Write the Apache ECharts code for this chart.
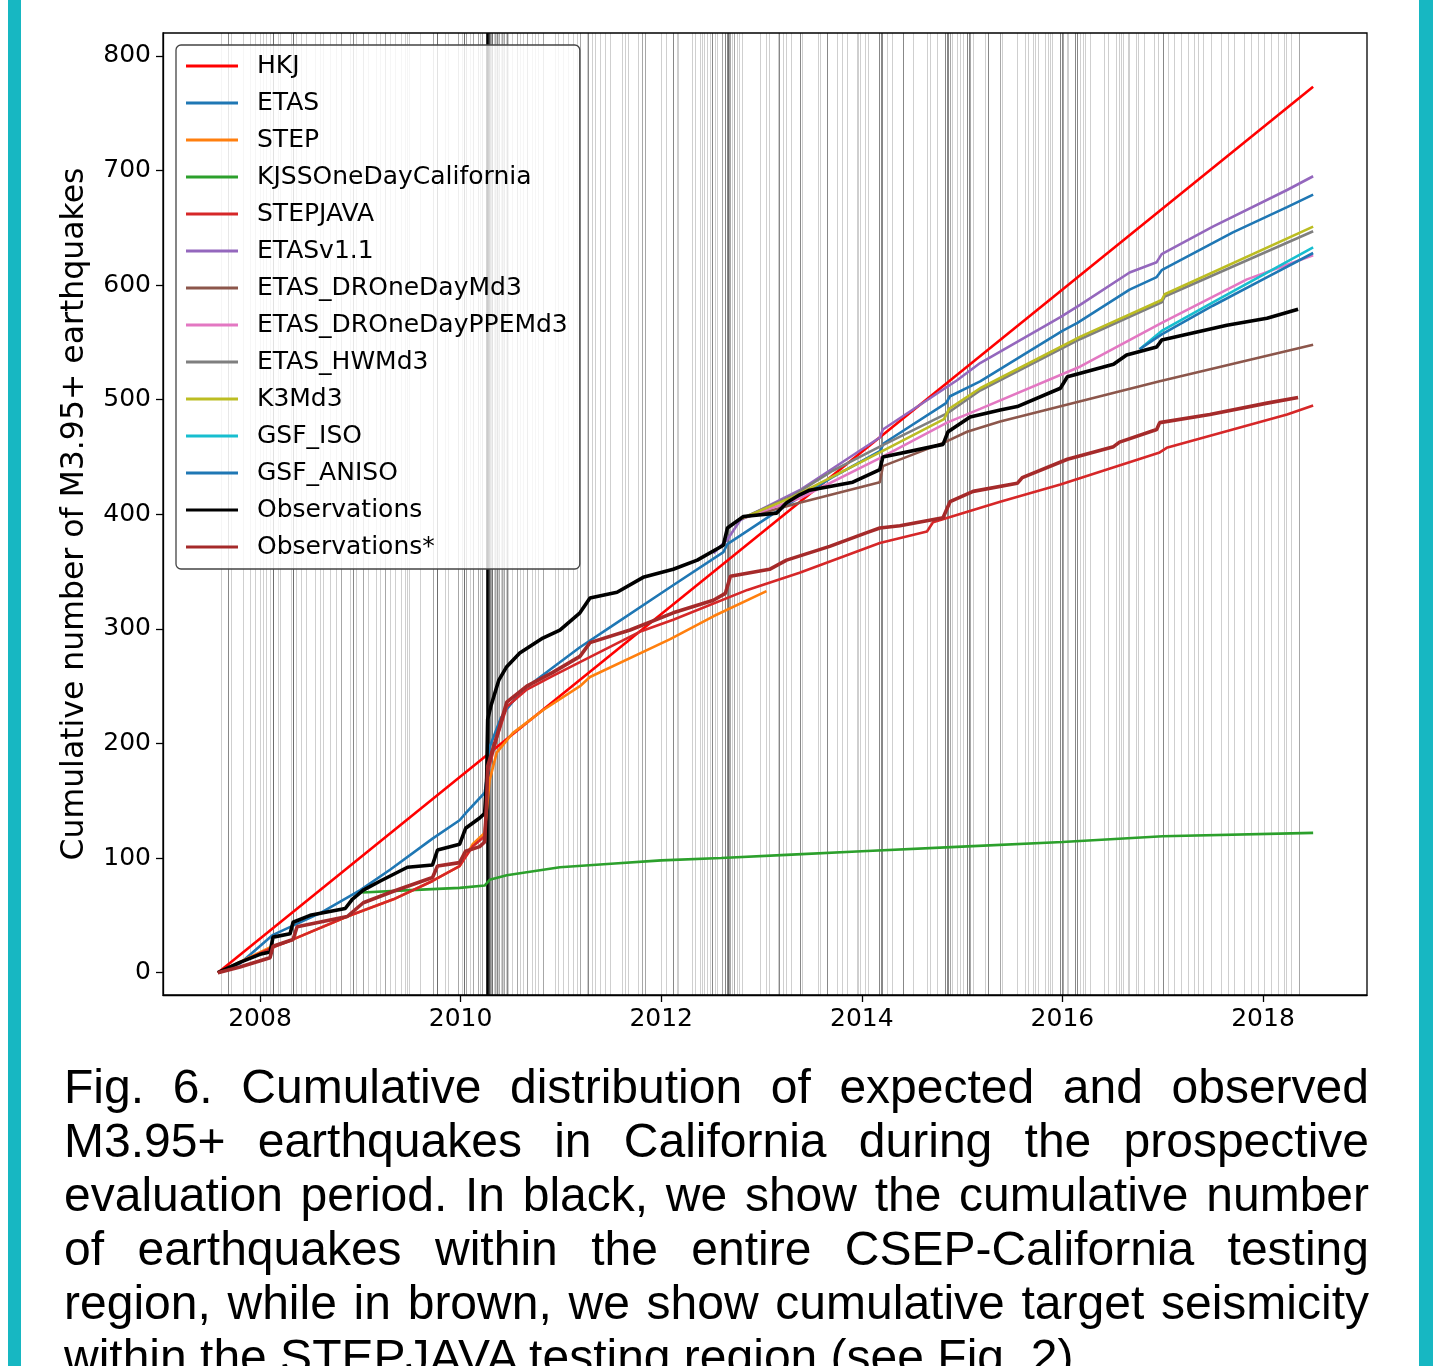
<!DOCTYPE html>
<html>
<head>
<meta charset="utf-8">
<title>Fig. 6 cumulative earthquakes</title>
<script src="https://cdn.jsdelivr.net/npm/echarts@6/dist/echarts.min.js"></script>
<style>
  html, body { margin: 0; padding: 0; background: #fff; overflow: hidden; }
  #chart { position: absolute; left: 0; top: 0; width: 1439px; height: 1366px; }
  .bar { position: absolute; top: 0; height: 1366px; background: #17b7c2; }
  #caption {
    position: absolute; left: 64px; top: 1060px; width: 1305px;
    font-family: "Liberation Sans", Arial, sans-serif; font-size: 48px; color: #000;
  }
  #caption div { height: 54px; line-height: 54px; white-space: nowrap; text-align: justify; text-align-last: justify; }
  #caption div.last { text-align-last: left; }
</style>
</head>
<body>
<div class="bar" style="left:8px;width:13px"></div>
<div class="bar" style="left:1419px;width:14px"></div>
<div id="chart"></div>
<div id="caption">
  <div>Fig. 6. Cumulative distribution of expected and observed</div>
  <div>M3.95+ earthquakes in California during the prospective</div>
  <div>evaluation period. In black, we show the cumulative number</div>
  <div>of earthquakes within the entire CSEP-California testing</div>
  <div>region, while in brown, we show cumulative target seismicity</div>
  <div class="last">within the STEPJAVA testing region (see Fig. 2).</div>
</div>
<script>
// tick labels
const xTicks = [2008, 2010, 2012, 2014, 2016, 2018];
const yTicks = [0, 100, 200, 300, 400, 500, 600, 700, 800];

// [decimal year, cumulative count]
const hkj = [[2007.58, 0], [2018.5, 773]];
const etas = [[2007.58, 0], [2007.8, 8], [2008.13, 33], [2008.6, 52], [2009.0, 72], [2009.3, 90], [2009.72, 117], [2009.99, 133], [2010.06, 140], [2010.24, 157], [2010.27, 175], [2010.29, 197], [2010.4, 222], [2010.46, 230], [2010.6, 245], [2010.9, 265], [2011.19, 284], [2011.5, 302], [2012.1, 337], [2012.62, 367], [2012.66, 374], [2013.18, 404], [2013.7, 432], [2014.18, 455], [2014.22, 462], [2014.84, 497], [2014.88, 503], [2015.18, 516], [2016.0, 560], [2016.15, 567], [2016.67, 596], [2016.94, 607], [2016.99, 613], [2017.7, 646], [2018.24, 668], [2018.5, 679]];
const step = [[2007.58, 0], [2008.1, 22], [2008.33, 29], [2008.87, 49], [2009.33, 64], [2009.72, 80], [2009.99, 93], [2010.12, 112], [2010.24, 122], [2010.27, 150], [2010.29, 168], [2010.36, 192], [2010.52, 209], [2010.82, 229], [2011.19, 250], [2011.29, 258], [2012.09, 291], [2012.52, 311], [2013.05, 333]];
const kjss = [[2009.02, 70], [2009.5, 72], [2009.99, 74], [2010.24, 76], [2010.29, 81], [2010.46, 85], [2010.99, 92], [2011.5, 95], [2012.0, 98], [2012.6, 100], [2013.3, 103], [2014.0, 106], [2015.0, 110], [2016.0, 114], [2017.0, 119], [2018.5, 122]];
const stepjava = [[2007.58, 0], [2008.1, 21], [2008.33, 29], [2008.87, 49], [2009.33, 64], [2009.72, 80], [2009.99, 93], [2010.12, 110], [2010.24, 119], [2010.27, 175], [2010.36, 204], [2010.46, 232], [2010.66, 247], [2010.92, 259], [2011.19, 271], [2011.8, 298], [2012.12, 308], [2012.86, 334], [2013.38, 349], [2014.18, 375], [2014.65, 385], [2014.71, 393], [2015.38, 411], [2015.98, 426], [2016.97, 454], [2017.04, 458], [2018.24, 487], [2018.5, 495]];
const etasV11 = [[2012.52, 366], [2012.66, 378], [2012.79, 395], [2013.38, 421], [2014.18, 467], [2014.21, 474], [2014.95, 517], [2015.18, 532], [2015.98, 572], [2016.18, 583], [2016.67, 611], [2016.94, 620], [2016.99, 627], [2017.5, 651], [2018.24, 683], [2018.5, 695]];
const etasDrMd3 = [[2012.79, 396], [2013.38, 410], [2014.18, 428], [2014.21, 442], [2014.83, 463], [2015.05, 472], [2015.38, 481], [2016.97, 516], [2018.5, 548]];
const etasDrPpe = [[2012.79, 396], [2013.38, 414], [2014.18, 449], [2014.85, 480], [2015.18, 492], [2016.18, 529], [2016.99, 567], [2017.84, 605], [2018.5, 626]];
const etasHw = [[2012.79, 396], [2013.31, 416], [2013.71, 438], [2014.18, 459], [2014.85, 488], [2015.18, 508], [2016.18, 553], [2016.99, 585], [2017.02, 590], [2018.5, 647]];
const k3md3 = [[2012.79, 396], [2013.31, 415], [2014.18, 454], [2014.82, 483], [2014.87, 492], [2015.18, 510], [2016.18, 555], [2016.99, 587], [2017.02, 592], [2018.5, 651]];
const gsfIso = [[2016.77, 544], [2016.99, 560], [2017.5, 585], [2018.0, 609], [2018.5, 633]];
const gsfAniso = [[2016.77, 544], [2016.99, 557], [2017.5, 582], [2018.0, 605], [2018.5, 628]];
const observations = [[2007.58, 0], [2007.8, 9], [2008.0, 16], [2008.1, 18], [2008.13, 31], [2008.3, 34], [2008.33, 44], [2008.5, 50], [2008.85, 56], [2008.92, 64], [2009.03, 72], [2009.2, 80], [2009.47, 92], [2009.72, 94], [2009.77, 107], [2009.99, 112], [2010.05, 126], [2010.19, 135], [2010.24, 139], [2010.26, 170], [2010.27, 221], [2010.3, 232], [2010.38, 255], [2010.46, 267], [2010.59, 279], [2010.82, 292], [2010.99, 299], [2011.19, 314], [2011.29, 327], [2011.56, 332], [2011.82, 345], [2012.12, 352], [2012.36, 360], [2012.62, 373], [2012.66, 388], [2012.82, 398], [2013.15, 401], [2013.25, 410], [2013.38, 417], [2013.48, 421], [2013.91, 428], [2014.18, 439], [2014.21, 450], [2014.81, 461], [2014.86, 472], [2015.08, 485], [2015.38, 491], [2015.55, 494], [2015.98, 510], [2016.05, 520], [2016.51, 531], [2016.64, 539], [2016.94, 546], [2016.99, 552], [2017.64, 565], [2018.04, 571], [2018.35, 579]];
const observationsStar = [[2007.58, 0], [2007.8, 5], [2008.1, 13], [2008.13, 23], [2008.33, 29], [2008.37, 40], [2008.87, 49], [2009.03, 61], [2009.33, 71], [2009.72, 83], [2009.77, 93], [2009.99, 96], [2010.05, 106], [2010.19, 110], [2010.24, 114], [2010.26, 150], [2010.27, 180], [2010.36, 206], [2010.46, 236], [2010.66, 250], [2010.92, 262], [2011.19, 276], [2011.29, 288], [2011.69, 299], [2012.12, 314], [2012.52, 325], [2012.64, 331], [2012.69, 346], [2013.08, 352], [2013.25, 360], [2013.68, 372], [2014.05, 384], [2014.18, 388], [2014.38, 390], [2014.81, 397], [2014.88, 411], [2015.11, 420], [2015.55, 427], [2015.6, 432], [2016.05, 448], [2016.51, 459], [2016.57, 463], [2016.94, 474], [2016.97, 480], [2017.47, 487], [2018.04, 497], [2018.35, 502]];

// event times [decimal year, number of events on that line]
const events = [[2007.61, 1], [2007.68, 3], [2007.71, 1], [2007.83, 1], [2007.9, 1], [2007.95, 1], [2008.0, 1], [2008.03, 1], [2008.06, 1], [2008.1, 1], [2008.13, 4], [2008.18, 1], [2008.2, 1], [2008.31, 1], [2008.33, 4], [2008.36, 1], [2008.41, 1], [2008.46, 1], [2008.55, 1], [2008.6, 1], [2008.63, 1], [2008.7, 1], [2008.76, 1], [2008.81, 2], [2008.9, 1], [2008.93, 3], [2008.96, 1], [2009.03, 2], [2009.08, 1], [2009.16, 1], [2009.2, 1], [2009.25, 2], [2009.3, 1], [2009.35, 1], [2009.41, 1], [2009.45, 1],
  [2009.47, 1], [2009.49, 1], [2009.6, 1], [2009.72, 2], [2009.76, 4], [2009.84, 1], [2009.87, 1], [2009.97, 2], [2010.01, 1], [2010.03, 4], [2010.05, 2], [2010.09, 1], [2010.12, 2], [2010.17, 2], [2010.19, 1], [2010.21, 2],
  [2010.255, 8], [2010.26, 20], [2010.265, 15], [2010.27, 10], [2010.28, 6], [2010.29, 3], [2010.3, 2], [2010.31, 1], [2010.315, 3], [2010.33, 1], [2010.34, 2], [2010.355, 1], [2010.36, 3], [2010.375, 1], [2010.385, 2], [2010.4, 1], [2010.41, 2], [2010.42, 1], [2010.435, 2], [2010.45, 1], [2010.46, 3], [2010.47, 1],
  [2010.51, 1], [2010.56, 2], [2010.59, 1], [2010.62, 1], [2010.66, 2], [2010.71, 1], [2010.74, 1], [2010.77, 1], [2010.82, 2], [2010.94, 1], [2010.97, 1], [2011.02, 1], [2011.07, 1], [2011.12, 1], [2011.16, 1], [2011.19, 2], [2011.26, 1], [2011.27, 3], [2011.31, 1], [2011.34, 1], [2011.39, 1], [2011.44, 1], [2011.49, 1], [2011.61, 1], [2011.64, 1], [2011.67, 1], [2011.77, 1], [2011.81, 2], [2011.84, 2],
  [2012.0, 1], [2012.05, 1], [2012.12, 3], [2012.16, 1], [2012.17, 1], [2012.31, 1], [2012.34, 1], [2012.39, 1], [2012.41, 1], [2012.43, 1], [2012.46, 1], [2012.49, 1], [2012.51, 3], [2012.54, 1], [2012.56, 1], [2012.61, 2], [2012.64, 3], [2012.655, 3], [2012.665, 4], [2012.675, 2], [2012.69, 2], [2012.71, 1], [2012.73, 2], [2012.76, 1], [2012.78, 1], [2012.81, 1], [2012.99, 1], [2013.04, 1], [2013.07, 1], [2013.16, 1], [2013.17, 3], [2013.21, 1], [2013.24, 1], [2013.29, 1], [2013.38, 3], [2013.4, 1], [2013.56, 1], [2013.58, 1], [2013.65, 3], [2013.75, 1], [2013.8, 1], [2013.85, 1], [2013.95, 1], [2013.96, 1], [2013.98, 1], [2014.03, 1], [2014.06, 1], [2014.175, 3], [2014.19, 3], [2014.205, 3], [2014.25, 1],
  [2014.3, 1], [2014.41, 3], [2014.51, 1], [2014.65, 1], [2014.68, 1], [2014.75, 1], [2014.83, 3], [2014.845, 3], [2014.86, 3], [2014.875, 2], [2014.9, 1], [2014.95, 1], [2014.98, 1], [2015.01, 1], [2015.05, 3], [2015.07, 3], [2015.08, 2], [2015.11, 1], [2015.23, 1], [2015.26, 3], [2015.38, 2], [2015.4, 1], [2015.55, 1], [2015.63, 1], [2015.66, 1], [2015.71, 1], [2015.73, 1], [2015.76, 1], [2015.83, 1], [2015.86, 1], [2015.88, 1], [2015.9, 1], [2015.98, 3], [2016.0, 3], [2016.01, 2], [2016.05, 1], [2016.06, 1], [2016.13, 3], [2016.15, 3], [2016.18, 1], [2016.21, 1], [2016.23, 1], [2016.28, 1], [2016.41, 1], [2016.45, 1], [2016.53, 1], [2016.56, 1], [2016.58, 1], [2016.6, 1], [2016.65, 1], [2016.66, 1], [2016.73, 1], [2016.75, 1], [2016.81, 1], [2016.91, 1], [2016.95, 1], [2017.0, 3], [2017.05, 1], [2017.11, 1], [2017.18, 1], [2017.25, 1], [2017.31, 1], [2017.35, 1], [2017.4, 1], [2017.48, 1], [2017.58, 1], [2017.65, 1], [2017.71, 1], [2017.81, 1], [2017.88, 1], [2017.95, 1], [2018.01, 1], [2018.08, 1], [2018.15, 1], [2018.21, 1], [2018.23, 1], [2018.28, 1], [2018.36, 2]];

const font = 'DejaVu Sans';

function model(name, data, color, width) {
  return {
    name: name,
    type: 'line',
    data: data,
    showSymbol: false,
    symbol: 'none',
    color: color,
    lineStyle: { color: color, width: width || 2.6 },
    z: 3
  };
}

const chart = echarts.init(document.getElementById('chart'));

chart.setOption({
  animation: false,
  grid: { left: 163, right: 72, top: 33, bottom: 371, show: true, borderColor: '#000', borderWidth: 1.3, backgroundColor: 'transparent' },
  legend: {
    orient: 'vertical',
    left: 176,
    top: 45,
    padding: [8, 12, 9, 10],
    icon: 'rect',
    itemWidth: 52,
    itemHeight: 3,
    itemGap: 11,
    backgroundColor: 'rgba(255,255,255,0.8)',
    borderColor: '#444',
    borderWidth: 1.3,
    borderRadius: 5,
    textStyle: { fontFamily: font, fontSize: 25, lineHeight: 26, color: '#000', padding: [0, 0, 0, 14] },
    data: ['HKJ', 'ETAS', 'STEP', 'KJSSOneDayCalifornia', 'STEPJAVA', 'ETASv1.1', 'ETAS_DROneDayMd3', 'ETAS_DROneDayPPEMd3', 'ETAS_HWMd3', 'K3Md3', 'GSF_ISO', 'GSF_ANISO', 'Observations', 'Observations*'],
    z: 10
  },
  xAxis: {
    type: 'value',
    min: 2007.033,
    max: 2019.037,
    axisLine: { show: true, onZero: false, lineStyle: { color: '#000', width: 1.3 } },
    axisTick: { show: true, length: 7, lineStyle: { color: '#000', width: 1.3 }, customValues: xTicks },
    axisLabel: { customValues: xTicks, formatter: v => String(Math.round(v)), fontFamily: font, fontSize: 25, color: '#000', margin: 12 },
    splitLine: { show: false }
  },
  yAxis: {
    type: 'value',
    min: -19.5,
    max: 820,
    name: 'Cumulative number of M3.95+ earthquakes',
    nameLocation: 'middle',
    nameGap: 72,
    nameTextStyle: { fontFamily: font, fontSize: 31.5, color: '#000' },
    axisLine: { show: true, onZero: false, lineStyle: { color: '#000', width: 1.3 } },
    axisTick: { show: true, length: 7, lineStyle: { color: '#000', width: 1.3 }, customValues: yTicks },
    axisLabel: { customValues: yTicks, fontFamily: font, fontSize: 25, color: '#000', margin: 12 },
    splitLine: { show: false }
  },
  series: [
    {
      type: 'custom',
      name: 'events',
      silent: true,
      z: 1,
      data: events,
      renderItem: function (params, api) {
        const cs = params.coordSys;
        const x = Math.round(api.coord([api.value(0), 0])[0]) + 0.5;
        const n = api.value(1);
        return {
          type: 'line',
          shape: { x1: x, y1: cs.y, x2: x, y2: cs.y + cs.height },
          style: { stroke: '#000', lineWidth: 1, opacity: 1 - Math.pow(0.81, n) }
        };
      }
    },
    model('HKJ', hkj, '#ff0000'),
    model('ETAS', etas, '#1f77b4'),
    model('STEP', step, '#ff7f0e'),
    model('KJSSOneDayCalifornia', kjss, '#2ca02c'),
    model('STEPJAVA', stepjava, '#d62728'),
    model('ETASv1.1', etasV11, '#9467bd'),
    model('ETAS_DROneDayMd3', etasDrMd3, '#8c564b'),
    model('ETAS_DROneDayPPEMd3', etasDrPpe, '#e377c2'),
    model('ETAS_HWMd3', etasHw, '#7f7f7f'),
    model('K3Md3', k3md3, '#bcbd22'),
    model('GSF_ISO', gsfIso, '#17becf'),
    model('GSF_ANISO', gsfAniso, '#1f77b4'),
    model('Observations', observations, '#000000', 3.6),
    model('Observations*', observationsStar, '#a52a2a', 3.6)
  ]
});
</script>
</body>
</html>
